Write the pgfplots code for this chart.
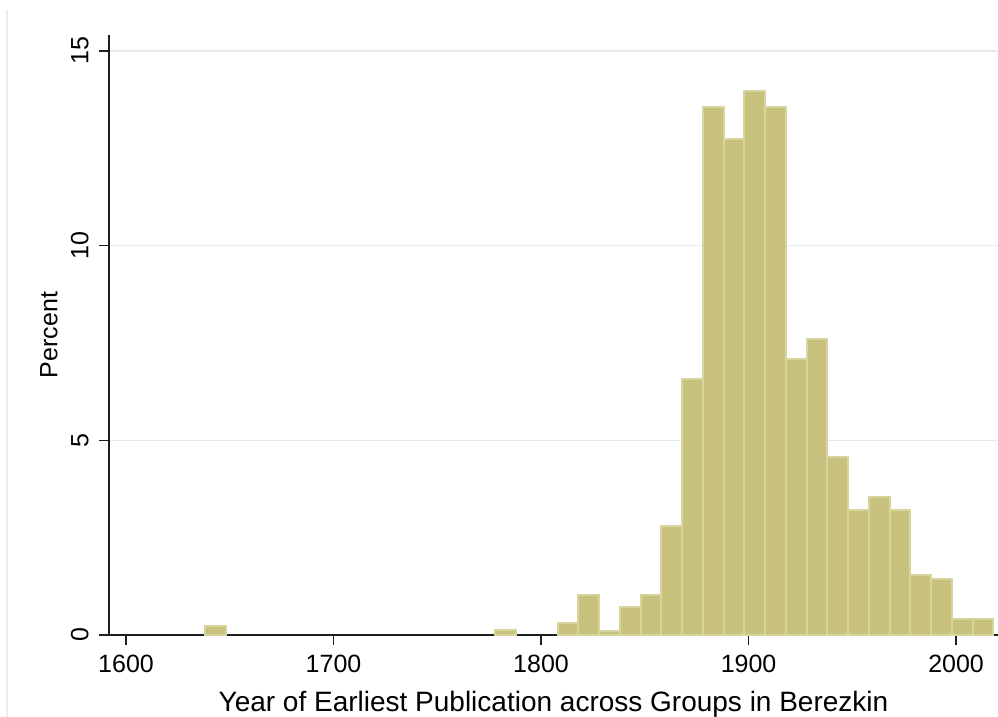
\documentclass[border=0pt]{standalone}
\usepackage{fontspec}
\setmainfont{Liberation Sans}
\usepackage{pgfplots}
\pgfplotsset{compat=1.18}

\definecolor{barfill}{RGB}{200,194,126}
\definecolor{baredge}{RGB}{216,212,158}
\definecolor{gridc}{RGB}{228,236,238}
\definecolor{axc}{RGB}{30,30,30}
\definecolor{framec}{RGB}{236,236,236}

\pgfplotsset{histbar/.style={ybar interval, fill=barfill, draw=baredge, line width=1pt}}

\begin{document}
\begin{tikzpicture}
\useasboundingbox (-54.5pt,-41pt) rectangle (444.5pt,317.5pt);
\draw[framec, line width=0.6pt] (-51pt,-41pt) -- (-51pt,312.5pt);
\begin{axis}[
  scale only axis, width=444.5pt, height=300pt,
  xmin=1591.8, xmax=2020.2, ymin=0, ymax=15.41,
  axis lines=left, axis line style={-, axc, line width=0.75pt},
  tick style={axc, line width=0.75pt}, major tick length=5pt, tick align=outside,
  xtick={1600,1700,1800,1900,2000}, ytick={0,5,10,15},
  ymajorgrids, grid style={gridc, line width=0.8pt},
  /pgf/number format/assume math mode=true,
  /pgf/number format/1000 sep={},
  tick label style={font=\fontsize{12.5}{15}\selectfont, inner sep=0pt},
  yticklabel style={rotate=90, anchor=south},
  xticklabel style={anchor=north},
  xticklabel shift=5pt, yticklabel shift=5pt,
  xlabel={Year of Earliest Publication across Groups in Berezkin},
  ylabel={Percent},
  xlabel style={at={(axis description cs:0.5,-0.0933)}, anchor=north, inner sep=0pt, font=\fontsize{14}{16}\selectfont},
  ylabel style={at={(axis description cs:-0.0574,0.5)}, rotate=0, anchor=south, inner sep=0pt, font=\fontsize{12.5}{15}\selectfont},
  clip=false,
]
% bins of 10 years, left edge and percent
\addplot[histbar] coordinates {(1638,0.22) (1648,0.22)};
\addplot[histbar] coordinates {(1778,0.12) (1788,0.12)};
\addplot[histbar] coordinates {
  (1808,0.31) (1818,1.03) (1828,0.10) (1838,0.71) (1848,1.03)
  (1858,2.80) (1868,6.58) (1878,13.56) (1888,12.74) (1898,13.98)
  (1908,13.56) (1918,7.09) (1928,7.61) (1938,4.58) (1948,3.21)
  (1958,3.55) (1968,3.21) (1978,1.54) (1988,1.44) (1998,0.40)
  (2008,0.40) (2018,0.40)
};
\end{axis}
\end{tikzpicture}
\end{document}
